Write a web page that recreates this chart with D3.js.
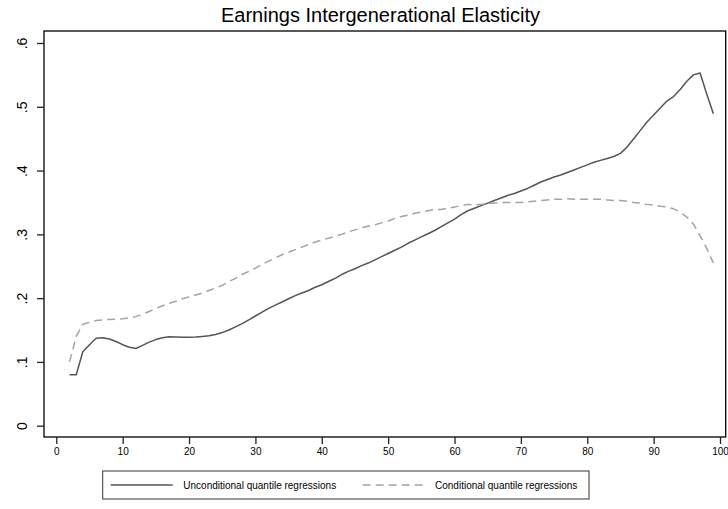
<!DOCTYPE html>
<html>
<head>
<meta charset="utf-8">
<script src="https://cdn.jsdelivr.net/npm/d3@7"></script>
<style>
  html, body { margin: 0; padding: 0; background: #fff; }
  svg { display: block; font-family: "Liberation Sans", Arial, Helvetica, sans-serif; }
</style>
</head>
<body>
<svg id="chart" width="728" height="509"></svg>
<script>
// Percentiles of the earnings distribution
const percentiles = d3.range(2, 100);

// Unconditional quantile regression estimates, percentiles 2..99
const unconditional = [
  0.080, 0.080, 0.116, 0.127, 0.137, 0.138, 0.136, 0.132, 0.127, 0.123,
  0.121, 0.126, 0.131, 0.135, 0.138, 0.1395, 0.139, 0.1385, 0.1385, 0.139,
  0.140, 0.141, 0.143, 0.146, 0.150, 0.155, 0.160, 0.166, 0.172, 0.178,
  0.184, 0.189, 0.194, 0.199, 0.204, 0.208, 0.212, 0.217, 0.221, 0.226,
  0.231, 0.237, 0.242, 0.246, 0.251, 0.255, 0.260, 0.265, 0.270, 0.275,
  0.280, 0.286, 0.291, 0.296, 0.301, 0.306, 0.312, 0.318, 0.324, 0.331,
  0.337, 0.341, 0.345, 0.349, 0.353, 0.357, 0.361, 0.364, 0.368, 0.372,
  0.377, 0.382, 0.386, 0.390, 0.393, 0.397, 0.401, 0.405, 0.409, 0.413,
  0.416, 0.419, 0.422, 0.427, 0.437, 0.450, 0.463, 0.476, 0.487, 0.498,
  0.509, 0.516, 0.527, 0.540, 0.550, 0.553, 0.520, 0.489
];

// Conditional quantile regression estimates, percentiles 2..99
const conditional = [
  0.100, 0.140, 0.159, 0.162, 0.165, 0.166, 0.1665, 0.167, 0.1675, 0.169,
  0.171, 0.175, 0.179, 0.184, 0.188, 0.192, 0.195, 0.199, 0.202, 0.205,
  0.208, 0.212, 0.216, 0.220, 0.226, 0.231, 0.237, 0.242, 0.247, 0.253,
  0.258, 0.263, 0.268, 0.272, 0.276, 0.280, 0.284, 0.288, 0.291, 0.294,
  0.297, 0.300, 0.304, 0.307, 0.310, 0.313, 0.315, 0.318, 0.321, 0.325,
  0.328, 0.330, 0.333, 0.335, 0.337, 0.339, 0.339, 0.341, 0.343, 0.345,
  0.347, 0.346, 0.347, 0.348, 0.349, 0.350, 0.350, 0.350, 0.350, 0.351,
  0.352, 0.353, 0.354, 0.355, 0.355, 0.356, 0.355, 0.355, 0.355, 0.355,
  0.355, 0.354, 0.353, 0.353, 0.352, 0.350, 0.349, 0.347, 0.346, 0.344,
  0.343, 0.340, 0.335, 0.327, 0.316, 0.298, 0.278, 0.255
];

const xTicks = [0, 10, 20, 30, 40, 50, 60, 70, 80, 90, 100];
const yTicks = [0, 0.1, 0.2, 0.3, 0.4, 0.5, 0.6];
const seriesNames = ["Unconditional quantile regressions", "Conditional quantile regressions"];
const titleText = "Earnings Intergenerational Elasticity";

const svg = d3.select("#chart");

// Plot region (frame) and the data ranges inside it
const frame = { left: 44, top: 31, right: 725.7, bottom: 437 };
const x = d3.scaleLinear().domain([0, 100]).range([56.3, 720]);
const y = d3.scaleLinear().domain([0, 0.6]).range([425.7, 43]);

// Title
svg.append("text")
  .attr("x", 380.5).attr("y", 22)
  .attr("text-anchor", "middle")
  .attr("font-size", 20)
  .attr("fill", "#000")
  .text(titleText);

// Frame
svg.append("rect")
  .attr("x", frame.left).attr("y", frame.top)
  .attr("width", frame.right - frame.left)
  .attr("height", frame.bottom - frame.top)
  .attr("fill", "none").attr("stroke", "#000").attr("stroke-width", 1.3);

// Y axis
const fmtY = d => d === 0 ? "0" : d3.format(".1f")(d).replace(/^0/, "");
const yAxis = svg.append("g")
  .attr("transform", `translate(${frame.left},0)`)
  .call(d3.axisLeft(y).tickValues(yTicks).tickSize(7).tickFormat(fmtY));
yAxis.select(".domain").remove();
yAxis.selectAll(".tick line").attr("stroke", "#222").attr("stroke-width", 1.3);
yAxis.selectAll(".tick text")
  .attr("x", 0).attr("y", 0).attr("dy", 0)
  .attr("text-anchor", "middle")
  .attr("transform", "translate(-17.3,0) rotate(-90)")
  .attr("font-size", 14)
  .attr("font-family", "Liberation Sans, Arial, sans-serif")
  .attr("fill", "#000");

// X axis
const xAxis = svg.append("g")
  .attr("transform", `translate(0,${frame.bottom})`)
  .call(d3.axisBottom(x).tickValues(xTicks).tickSize(7).tickPadding(4));
xAxis.select(".domain").remove();
xAxis.selectAll(".tick line").attr("stroke", "#222").attr("stroke-width", 1.3);
xAxis.selectAll(".tick text")
  .attr("font-size", 10)
  .attr("font-family", "Liberation Sans, Arial, sans-serif")
  .attr("fill", "#000");

// Series lines
const line = d3.line()
  .x(d => x(d[0]))
  .y(d => y(d[1]));

const styles = [
  { color: "#555555", dash: null },
  { color: "#a3a3a3", dash: "8,5" }
];

[unconditional, conditional].forEach((vals, i) => {
  svg.append("path")
    .datum(percentiles.map((p, j) => [p, vals[j]]))
    .attr("d", line)
    .attr("fill", "none")
    .attr("stroke", styles[i].color)
    .attr("stroke-width", 1.5)
    .attr("stroke-linejoin", "round")
    .attr("stroke-dasharray", styles[i].dash);
});

// Legend
const legend = svg.append("g");
legend.append("rect")
  .attr("x", 102.7).attr("y", 471)
  .attr("width", 486.3).attr("height", 28)
  .attr("fill", "#fff").attr("stroke", "#333").attr("stroke-width", 1);

const legendItems = [
  { x1: 110.7, x2: 172.7, tx: 183.3 },
  { x1: 362.7, x2: 424, tx: 435 }
];
legendItems.forEach((it, i) => {
  legend.append("line")
    .attr("x1", it.x1).attr("x2", it.x2)
    .attr("y1", 485).attr("y2", 485)
    .attr("stroke", styles[i].color)
    .attr("stroke-width", 1.5)
    .attr("stroke-dasharray", styles[i].dash);
  legend.append("text")
    .attr("x", it.tx).attr("y", 488.6)
    .attr("font-size", 10)
    .attr("fill", "#000")
    .text(seriesNames[i]);
});
</script>
</body>
</html>
